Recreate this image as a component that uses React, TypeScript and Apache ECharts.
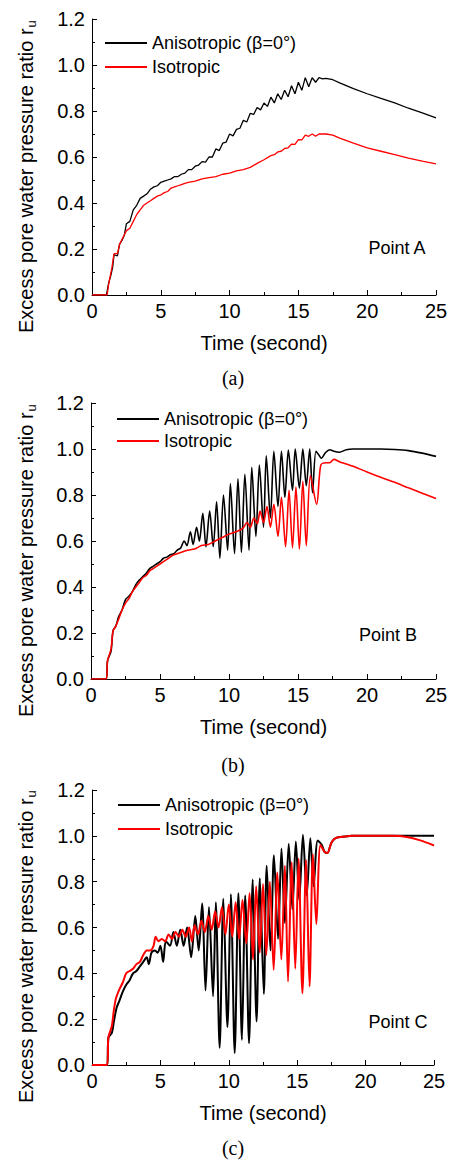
import { useEffect, useRef } from 'react';
import * as echarts from 'echarts';

const NAME_ANISO = 'Anisotropic (β=0°)';
const NAME_ISO = 'Isotropic';
const panelLabels = ['(a)', '(b)', '(c)'];
const pointLabels = ['Point A', 'Point B', 'Point C'];
const xAxisTitle = 'Time (second)';
const yAxisTitle = 'Excess pore water pressure ratio r';
const yAxisSub = 'u';

// Panel (a) – Point A
const anisoA: [number, number][] = [
  [0, 0], [1.05, 0], [1.2, 0.05], [1.35, 0.08], [1.5, 0.12], [1.6, 0.175], [1.85, 0.17], [2.0, 0.22],
  [2.2, 0.24], [2.35, 0.26], [2.5, 0.31], [2.75, 0.32], [3.0, 0.37], [3.25, 0.39], [3.5, 0.42],
  [3.75, 0.43], [4.0, 0.44], [4.25, 0.46], [4.5, 0.47], [4.75, 0.475], [5.0, 0.49], [5.25, 0.495],
  [5.5, 0.5], [5.75, 0.505], [6.0, 0.515], [6.25, 0.515], [6.5, 0.525], [6.75, 0.53], [7.0, 0.545],
  [7.25, 0.545], [7.5, 0.56], [7.75, 0.565], [8.0, 0.58], [8.25, 0.578], [8.5, 0.6], [8.75, 0.6],
  [9.0, 0.635], [9.25, 0.628], [9.5, 0.66], [9.75, 0.665], [10.0, 0.7], [10.25, 0.692], [10.5, 0.72],
  [10.75, 0.725], [11.0, 0.76], [11.25, 0.752], [11.5, 0.79], [11.75, 0.785], [12.0, 0.815],
  [12.25, 0.805], [12.5, 0.835], [12.75, 0.82], [13.0, 0.86], [13.25, 0.835], [13.5, 0.875],
  [13.75, 0.85], [14.0, 0.89], [14.25, 0.862], [14.5, 0.91], [14.75, 0.875], [15.0, 0.925],
  [15.25, 0.89], [15.5, 0.945], [15.75, 0.905], [16.0, 0.945], [16.25, 0.925], [16.5, 0.945],
  [16.75, 0.94], [17.0, 0.942], [17.5, 0.936], [18.0, 0.922], [19.0, 0.897], [20.0, 0.875],
  [21.0, 0.855], [22.0, 0.835], [23.0, 0.812], [24.0, 0.792], [25.0, 0.77],
];
const isoA: [number, number][] = [
  [0, 0], [1.1, 0], [1.25, 0.06], [1.45, 0.12], [1.6, 0.18], [1.85, 0.18], [2.0, 0.22], [2.25, 0.25],
  [2.5, 0.28], [2.75, 0.29], [3.0, 0.32], [3.25, 0.35], [3.5, 0.37], [3.75, 0.39], [4.0, 0.4],
  [4.25, 0.41], [4.5, 0.42], [4.75, 0.43], [5.0, 0.435], [5.25, 0.445], [5.5, 0.45], [5.75, 0.465],
  [6.0, 0.47], [6.25, 0.475], [6.5, 0.48], [6.75, 0.485], [7.0, 0.49], [7.5, 0.495], [8.0, 0.505],
  [8.5, 0.51], [9.0, 0.515], [9.5, 0.525], [10.0, 0.53], [10.5, 0.54], [11.0, 0.545], [11.5, 0.555],
  [12.0, 0.572], [12.5, 0.588], [13.0, 0.606], [13.25, 0.61], [13.5, 0.622], [13.75, 0.625],
  [14.0, 0.637], [14.25, 0.64], [14.5, 0.656], [14.75, 0.655], [15.0, 0.676], [15.25, 0.674],
  [15.5, 0.695], [15.75, 0.69], [16.0, 0.7], [16.25, 0.69], [16.5, 0.7], [17.0, 0.7], [17.5, 0.695],
  [18.0, 0.682], [19.0, 0.66], [20.0, 0.64], [21.0, 0.625], [22.0, 0.61], [23.0, 0.595],
  [24.0, 0.582], [25.0, 0.57],
];

// Panel (b) – Point B
const anisoB: [number, number][] = [
  [0, 0], [1.1, 0], [1.2, 0.08], [1.45, 0.12], [1.6, 0.21], [1.8, 0.23], [2.0, 0.27], [2.25, 0.3],
  [2.5, 0.345], [2.75, 0.36], [3.0, 0.38], [3.25, 0.41], [3.5, 0.43], [3.75, 0.445], [4.0, 0.46],
  [4.25, 0.48], [4.5, 0.49], [4.75, 0.5], [5.0, 0.51], [5.25, 0.525], [5.5, 0.53], [5.75, 0.54],
  [6.0, 0.545], [6.25, 0.56], [6.5, 0.57], [6.75, 0.6], [6.95, 0.58], [7.2, 0.64], [7.4, 0.585],
  [7.65, 0.66], [7.85, 0.6], [8.1, 0.72], [8.33, 0.575], [8.6, 0.73], [8.86, 0.575], [9.1, 0.77],
  [9.34, 0.525], [9.6, 0.8], [9.9, 0.56], [10.1, 0.85], [10.4, 0.545], [10.65, 0.87], [10.9, 0.55],
  [11.15, 0.89], [11.45, 0.56], [11.65, 0.92], [11.95, 0.62], [12.2, 0.93], [12.5, 0.66],
  [12.7, 0.97], [13.0, 0.7], [13.25, 0.99], [13.55, 0.75], [13.8, 0.99], [14.05, 0.79],
  [14.3, 0.995], [14.6, 0.82], [14.8, 1.0], [15.1, 0.83], [15.35, 1.0], [15.6, 0.84], [15.85, 1.0],
  [16.05, 0.81], [16.3, 0.99], [16.5, 0.975], [16.7, 0.96], [17.0, 0.985], [17.3, 0.997],
  [17.6, 0.99], [18.0, 0.986], [18.5, 0.997], [19.0, 1.0], [20.0, 1.0], [21.0, 1.0], [22.0, 0.998],
  [23.0, 0.993], [24.0, 0.982], [25.0, 0.968],
];
const isoB: [number, number][] = [
  [0, 0], [1.1, 0], [1.2, 0.08], [1.45, 0.13], [1.6, 0.21], [1.8, 0.23], [2.0, 0.26], [2.25, 0.3],
  [2.5, 0.33], [2.75, 0.35], [3.0, 0.38], [3.25, 0.4], [3.5, 0.42], [3.75, 0.44], [4.0, 0.45],
  [4.25, 0.47], [4.5, 0.48], [4.75, 0.49], [5.0, 0.5], [5.5, 0.52], [6.0, 0.54], [6.5, 0.55],
  [7.0, 0.56], [7.5, 0.565], [8.0, 0.58], [8.5, 0.585], [9.0, 0.6], [9.5, 0.615], [10.0, 0.63],
  [10.5, 0.64], [11.0, 0.655], [11.3, 0.68], [11.55, 0.66], [11.8, 0.7], [12.05, 0.675],
  [12.25, 0.73], [12.5, 0.68], [12.75, 0.75], [13.0, 0.66], [13.25, 0.76], [13.55, 0.62],
  [13.8, 0.79], [14.1, 0.575], [14.35, 0.82], [14.6, 0.57], [14.85, 0.835], [15.1, 0.565],
  [15.35, 0.86], [15.6, 0.58], [15.9, 0.885], [16.35, 0.76], [16.65, 0.93], [17.0, 0.94],
  [17.3, 0.94], [17.6, 0.955], [18.0, 0.945], [18.5, 0.935], [19.0, 0.925], [20.0, 0.9],
  [21.0, 0.877], [22.0, 0.855], [23.0, 0.831], [24.0, 0.808], [25.0, 0.785],
];

// Panel (c) – Point C
const anisoC: [number, number][] = [
  [0, 0], [1.1, 0], [1.2, 0.12], [1.45, 0.14], [1.6, 0.19], [1.8, 0.25], [2.0, 0.28], [2.25, 0.32],
  [2.5, 0.35], [2.75, 0.37], [3.0, 0.4], [3.25, 0.41], [3.5, 0.43], [3.75, 0.45], [4.0, 0.47],
  [4.15, 0.44], [4.35, 0.49], [4.6, 0.5], [4.8, 0.49], [5.0, 0.52], [5.2, 0.45], [5.4, 0.54],
  [5.7, 0.52], [5.95, 0.58], [6.2, 0.52], [6.45, 0.59], [6.7, 0.52], [6.95, 0.6], [7.25, 0.47],
  [7.55, 0.65], [7.8, 0.5], [8.05, 0.705], [8.3, 0.325], [8.55, 0.69], [8.85, 0.3], [9.05, 0.71],
  [9.33, 0.075], [9.6, 0.725], [9.9, 0.165], [10.15, 0.745], [10.43, 0.052], [10.7, 0.75],
  [10.96, 0.11], [11.2, 0.74], [11.48, 0.095], [11.75, 0.81], [12.03, 0.19], [12.27, 0.815],
  [12.56, 0.31], [12.77, 0.87], [13.05, 0.5], [13.3, 0.915], [13.6, 0.55], [13.85, 0.945],
  [14.1, 0.62], [14.38, 0.965], [14.65, 0.68], [14.9, 0.975], [15.15, 0.72], [15.42, 1.005],
  [15.7, 0.74], [15.96, 0.99], [16.2, 0.78], [16.5, 0.98], [16.8, 0.96], [17.0, 0.93],
  [17.2, 0.925], [17.5, 0.97], [17.8, 0.99], [18.5, 0.997], [19.0, 1.0], [20.0, 1.0], [25.0, 1.0],
];
const isoC: [number, number][] = [
  [0, 0], [1.1, 0], [1.2, 0.12], [1.45, 0.17], [1.6, 0.24], [1.75, 0.29], [2.0, 0.33], [2.25, 0.36],
  [2.5, 0.4], [2.75, 0.41], [3.0, 0.42], [3.25, 0.44], [3.5, 0.45], [3.75, 0.48], [4.0, 0.5],
  [4.25, 0.5], [4.5, 0.52], [4.65, 0.56], [4.85, 0.54], [5.1, 0.55], [5.35, 0.54], [5.6, 0.57],
  [5.85, 0.55], [6.1, 0.58], [6.35, 0.56], [6.6, 0.59], [6.85, 0.56], [7.1, 0.6], [7.3, 0.54],
  [7.5, 0.61], [7.75, 0.57], [8.0, 0.63], [8.25, 0.58], [8.5, 0.65], [8.75, 0.59], [9.0, 0.67],
  [9.25, 0.6], [9.5, 0.69], [9.75, 0.57], [10.0, 0.7], [10.25, 0.56], [10.5, 0.71], [10.75, 0.55],
  [11.0, 0.72], [11.28, 0.53], [11.52, 0.75], [11.77, 0.46], [12.0, 0.78], [12.26, 0.49],
  [12.5, 0.79], [12.74, 0.48], [13.0, 0.8], [13.28, 0.415], [13.55, 0.84], [13.84, 0.46],
  [14.1, 0.87], [14.33, 0.364], [14.6, 0.885], [14.86, 0.42], [15.1, 0.9], [15.38, 0.313],
  [15.65, 0.895], [15.9, 0.343], [16.15, 0.92], [16.4, 0.615], [16.7, 0.96], [17.0, 0.93],
  [17.2, 0.925], [17.5, 0.97], [17.8, 0.99], [18.5, 0.997], [19.0, 1.0], [20.0, 1.0], [21.0, 1.0],
  [22.0, 1.0], [23.0, 0.995], [24.0, 0.98], [25.0, 0.958],
];

const panelData = [
  { aniso: anisoA, iso: isoA },
  { aniso: anisoB, iso: isoB },
  { aniso: anisoC, iso: isoC },
];

// layout (positions only)
const layout = [
  { left: 92, top: 19, width: 344, height: 276, lineW: 1.3, smooth: false, legendLeft: 105, legendTop: 32, legendGap: 2, point: [397, 248], label: [233, 378], yName: [26, 333] },
  { left: 91, top: 403, width: 345, height: 276, lineW: 1.6, smooth: 0.3, legendLeft: 117, legendTop: 408, legendGap: 0, point: [388, 635], label: [233, 765], yName: [26, 717] },
  { left: 92, top: 790, width: 342, height: 275, lineW: 2, smooth: 0.3, legendLeft: 118, legendTop: 794, legendGap: 2, point: [398, 1022], label: [233, 1148], yName: [26, 1103] },
];

const FONT = '"Liberation Sans", Arial, sans-serif';

export default function App() {
  const ref = useRef<HTMLDivElement>(null);
  useEffect(() => {
    if (!ref.current) return;
    const chart = echarts.init(ref.current, undefined, { renderer: 'svg' });
    const axisCommon = {
      axisLine: { show: true, lineStyle: { color: '#000', width: 1 } },
      axisTick: { show: true, inside: true, length: 5, lineStyle: { color: '#000', width: 1 } },
      minorTick: { show: true, splitNumber: 2, length: 3, lineStyle: { color: '#000', width: 1 } },
      splitLine: { show: false },
    };
    const option: any = {
      animation: false,
      backgroundColor: '#fff',
      grid: layout.map((l) => ({ left: l.left, top: l.top, width: l.width, height: l.height })),
      xAxis: layout.map((_, i) => ({
        ...axisCommon,
        gridIndex: i,
        type: 'value',
        min: 0,
        max: 25,
        interval: 5,
        name: xAxisTitle,
        nameLocation: 'middle',
        nameGap: 38,
        nameTextStyle: { fontFamily: FONT, fontSize: 20, color: '#000' },
        axisLabel: { fontFamily: FONT, fontSize: 20, color: '#000', margin: 6 },
      })),
      yAxis: layout.map((_, i) => ({
        ...axisCommon,
        gridIndex: i,
        type: 'value',
        min: 0,
        max: 1.2,
        interval: 0.2,
        axisLabel: {
          fontFamily: FONT,
          fontSize: 20,
          color: '#000',
          margin: 7,
          formatter: (v: number) => v.toFixed(1),
        },
      })),
      legend: layout.map((l) => ({
        orient: 'vertical',
        left: l.legendLeft,
        top: l.legendTop,
        padding: 0,
        itemWidth: 42,
        itemHeight: 2,
        itemGap: l.legendGap,
        icon: 'rect',
        data: [NAME_ANISO, NAME_ISO],
        textStyle: { fontFamily: FONT, fontSize: 18, color: '#000', lineHeight: 22 },
        selectedMode: false,
      })),
      series: panelData.flatMap((p, i) => [
        {
          type: 'line',
          name: NAME_ANISO,
          xAxisIndex: i,
          yAxisIndex: i,
          data: p.aniso,
          symbol: 'none',
          smooth: layout[i].smooth,
          lineStyle: { color: '#000', width: layout[i].lineW },
          itemStyle: { color: '#000' },
        },
        {
          type: 'line',
          name: NAME_ISO,
          xAxisIndex: i,
          yAxisIndex: i,
          data: p.iso,
          symbol: 'none',
          smooth: layout[i].smooth,
          lineStyle: { color: '#ff0000', width: layout[i].lineW },
          itemStyle: { color: '#ff0000' },
        },
      ]),
      graphic: layout.flatMap((l, i) => [
        {
          type: 'text',
          x: l.point[0],
          y: l.point[1],
          style: { text: pointLabels[i], fontFamily: FONT, fontSize: 18, fill: '#000', align: 'center', verticalAlign: 'middle' },
        },
        {
          type: 'text',
          x: l.label[0],
          y: l.label[1],
          style: { text: panelLabels[i], fontFamily: '"Liberation Serif", "Times New Roman", serif', fontSize: 20, fill: '#000', align: 'center', verticalAlign: 'middle' },
        },
        {
          type: 'text',
          x: l.yName[0],
          y: l.yName[1],
          rotation: Math.PI / 2,
          style: {
            text: `${yAxisTitle}{sub|${yAxisSub}}`,
            fontFamily: FONT,
            fontSize: 20,
            fill: '#000',
            align: 'left',
            verticalAlign: 'middle',
            rich: {
              sub: { fontFamily: FONT, fontSize: 13, fill: '#000', padding: [10, 0, 0, 1] },
            },
          },
        },
      ]),
    };
    chart.setOption(option);
    return () => chart.dispose();
  }, []);
  return (
    <div
      ref={ref}
      style={{ position: 'absolute', left: 0, top: 0, width: 451, height: 1161, background: '#fff' }}
    />
  );
}
